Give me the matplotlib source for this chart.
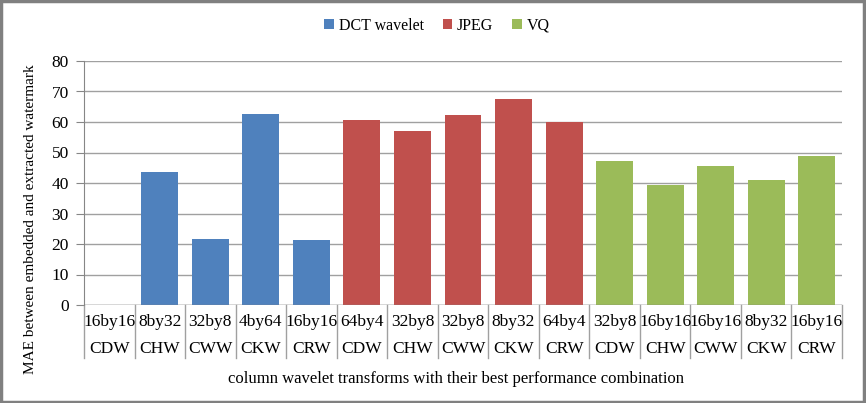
import matplotlib
matplotlib.use("Agg")
import matplotlib.pyplot as plt
from matplotlib.patches import Rectangle, Patch

sizes = ["16by16", "8by32", "32by8", "4by64", "16by16",
         "64by4", "32by8", "32by8", "8by32", "64by4",
         "32by8", "16by16", "16by16", "8by32", "16by16"]
transforms = ["CDW", "CHW", "CWW", "CKW", "CRW",
              "CDW", "CHW", "CWW", "CKW", "CRW",
              "CDW", "CHW", "CWW", "CKW", "CRW"]
series_names = ["DCT wavelet", "JPEG", "VQ"]
dct_values = [0, 43.6, 21.6, 62.7, 21.4]
jpeg_values = [60.8, 57.0, 62.2, 67.4, 59.9]
vq_values = [47.3, 39.2, 45.6, 41.1, 49.0]
colors = ["#4F81BD", "#C0504D", "#9BBB59"]

plt.rcParams['font.family'] = ['Liberation Serif', 'DejaVu Serif']

W, H = 866, 403
fig = plt.figure(figsize=(W / 100, H / 100), dpi=100)
x0, x1, y0, y1 = 84, 842, 305, 61
ax = fig.add_axes([x0 / W, 1 - y0 / H, (x1 - x0) / W, (y0 - y1) / H])

all_series = [dct_values, jpeg_values, vq_values]
handles = []
pos = 0
for name, vals, col in zip(series_names, all_series, colors):
    xs = list(range(pos, pos + len(vals)))
    ax.bar(xs, vals, width=0.73, color=col, zorder=3)
    handles.append(Patch(facecolor=col, label=name))
    pos += len(vals)

n = len(sizes)
ax.set_xlim(-0.5, n - 0.5)
ax.set_ylim(0, 80)
ax.set_yticks(range(0, 81, 10))
ax.tick_params(axis='y', labelsize=12.5, length=6, color="#868686", pad=5)
ax.set_xticks([])
ax.yaxis.grid(True, color="#A0A0A0", linewidth=1.0, zorder=0)
for s in ["top", "right", "bottom"]:
    ax.spines[s].set_visible(False)
ax.spines["left"].set_color("#868686")
ax.axhline(0, color="#868686", linewidth=1.0, zorder=4)

tr = ax.get_xaxis_transform()
axh = y0 - y1
row1 = -(322 - y0) / axh
row2 = -(349 - y0) / axh
sep_bottom = -(358 - y0) / axh
for i in range(n):
    ax.text(i, row1, sizes[i], transform=tr, ha='center', va='center', fontsize=12.5)
    ax.text(i, row2, transforms[i], transform=tr, ha='center', va='center', fontsize=12.5)
for b in range(n + 1):
    ax.plot([b - 0.5, b - 0.5], [0, sep_bottom], transform=tr, color="#A0A0A0",
            linewidth=1.0, clip_on=False)

fig.text(456 / W, 1 - 379 / H,
         "column wavelet transforms with their best performance combination",
         ha='center', va='center', fontsize=12)
fig.text(31 / W, 1 - 219 / H, "MAE between embedded and extracted watermark",
         rotation=90, ha='center', va='center', fontsize=11)

fig.legend(handles=handles, loc='center', bbox_to_anchor=(437 / W, 1 - 26 / H),
           ncol=3, frameon=False, fontsize=11.5, handlelength=0.6, handleheight=0.6,
           handletextpad=0.3, columnspacing=1.2)

fig.patches.append(Rectangle((0.001, 0.002), 0.997, 0.995, transform=fig.transFigure,
                             fill=False, edgecolor="#808080", linewidth=2.5))

fig.savefig("out.png", dpi=100)
